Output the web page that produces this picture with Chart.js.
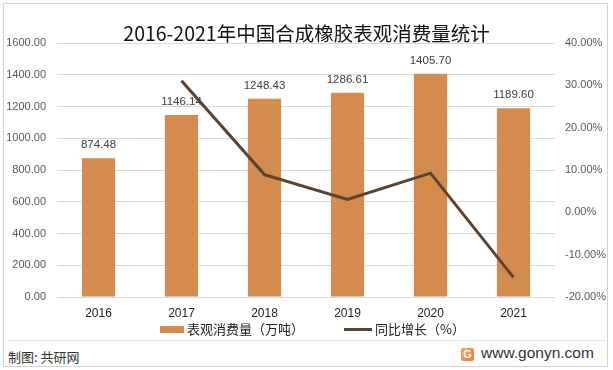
<!DOCTYPE html>
<html>
<head>
<meta charset="utf-8">
<script src="https://cdn.jsdelivr.net/npm/chart.js@4"></script>
<style>
  html, body { margin: 0; padding: 0; background: #fff; }
  body { width: 613px; height: 370px; position: relative; overflow: hidden;
         font-family: "Noto Sans CJK SC", "Liberation Sans", sans-serif; }
  #frame { position: absolute; left: 3px; top: 3px; width: 603px; height: 362px;
           border: 1px solid #d4d4d4; }
  #chartBox { position: absolute; left: 0; top: 0; width: 613px; height: 340px; }
  #title { position: absolute; left: 0; width: 613px; top: 20px; text-align: center;
           font-size: 19.5px; color: #111; line-height: 26px; }
  .legend { position: absolute; top: 320px; font-size: 13px; color: #222; line-height: 18px; }
  .legend i { display: inline-block; vertical-align: middle; margin-right: 3px; position: relative; top: -1px; }
  #sep { position: absolute; left: 8px; width: 597px; top: 340px; height: 1px; background: #e0e0e0; }
  #src { position: absolute; left: 8px; top: 347px; font-size: 13px; color: #333; }
  #site { position: absolute; left: 481px; top: 344px; font-size: 15.5px; color: #333;
          font-family: "Liberation Sans", sans-serif; }
  #logo { position: absolute; left: 461px; top: 348px; width: 13px; height: 13px;
          background: linear-gradient(135deg, #f7a35a, #ef7b3a); border-radius: 2px;
          color: #fff; font: bold 11px "Liberation Sans", sans-serif; text-align: center; line-height: 13px; }
</style>
</head>
<body>
<div id="frame"></div>
<div id="chartBox"><canvas id="c" width="613" height="340"></canvas></div>
<div id="title">2016-2021年中国合成橡胶表观消费量统计</div>
<div class="legend" style="left:160px"><i style="width:24px;height:7px;background:#D38B4E"></i>表观消费量（万吨）</div>
<div class="legend" style="left:344px"><i style="width:28px;height:3px;background:#5C4330"></i>同比增长（%）</div>
<div id="sep"></div>
<div id="src">制图: 共研网</div>
<div id="logo">G</div>
<div id="site">www.gonyn.com</div>
<script>
const years = ["2016", "2017", "2018", "2019", "2020", "2021"];
const consumption = [874.48, 1146.14, 1248.43, 1286.61, 1405.70, 1189.60];
const growth = [null, 31.07, 8.92, 3.06, 9.26, -15.37];

const numFont = { family: "Liberation Sans", size: 11 };

/* value labels above bars */
const barLabels = {
    id: "barLabels",
    afterDatasetsDraw(chart) {
        const ctx = chart.ctx;
        const meta = chart.getDatasetMeta(1);
        ctx.save();
        ctx.font = "11.5px 'Liberation Sans'";
        ctx.fillStyle = "#404040";
        ctx.textAlign = "center";
        ctx.textBaseline = "middle";
        meta.data.forEach((bar, i) => {
            ctx.fillText(consumption[i].toFixed(2), bar.x, bar.y - 13);
        });
        ctx.restore();
    }
};

new Chart(document.getElementById("c"), {
    data: {
        labels: years,
        datasets: [
            {
                type: "line",
                label: "同比增长（%）",
                data: growth,
                yAxisID: "y1",
                borderColor: "#5C4330",
                borderWidth: 3,
                pointRadius: 0,
                tension: 0,
                order: 0
            },
            {
                type: "bar",
                label: "表观消费量（万吨）",
                data: consumption,
                yAxisID: "y",
                backgroundColor: "#D38B4E",
                barPercentage: 0.4,
                categoryPercentage: 1,
                order: 1
            }
        ]
    },
    options: {
        responsive: false,
        animation: false,
        layout: { padding: { top: 43, left: 0, right: 0, bottom: 0 } },
        plugins: {
            legend: { display: false },
            tooltip: { enabled: false }
        },
        scales: {
            x: {
                grid: { display: false, drawTicks: false },
                border: { display: false },
                ticks: { color: "#222", font: { family: "Liberation Sans", size: 12 }, padding: 9 },
                afterFit(s) { s.height = 43; }
            },
            y: {
                position: "left",
                min: 0, max: 1600,
                ticks: { stepSize: 200, color: "#595959", font: numFont, padding: 11,
                         callback: v => v.toFixed(2) },
                grid: { color: "#d9d9d9", drawTicks: false },
                border: { display: false },
                afterFit(s) { s.width = 57; }
            },
            y1: {
                position: "right",
                min: -20, max: 40,
                ticks: { stepSize: 10, color: "#595959", font: numFont, padding: 10,
                         callback: v => v.toFixed(2) + "%" },
                grid: { display: false, drawTicks: false },
                border: { display: false },
                afterFit(s) { s.width = 58; }
            }
        }
    },
    plugins: [barLabels]
});
</script>
</body>
</html>
